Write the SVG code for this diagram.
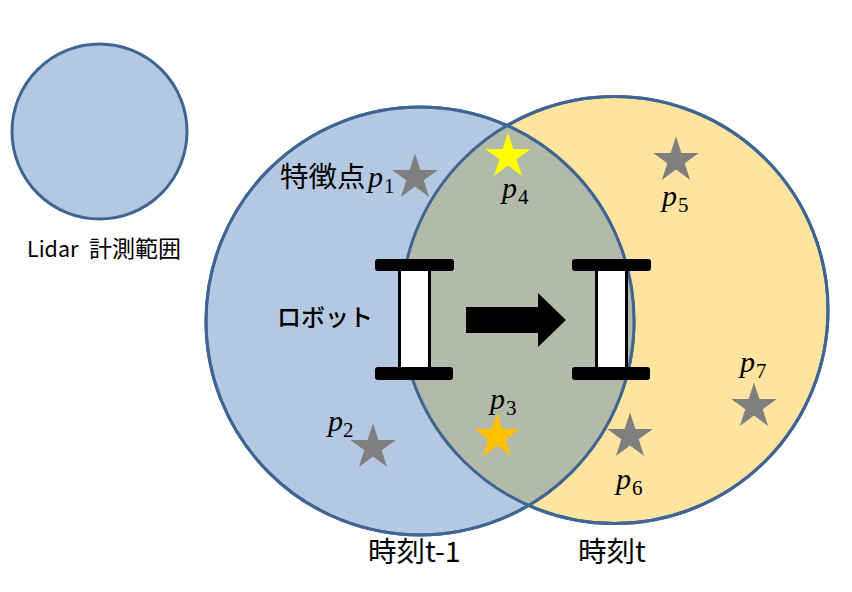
<svg xmlns="http://www.w3.org/2000/svg" xmlns:xlink="http://www.w3.org/1999/xlink" width="852" height="592" viewBox="0 0 852 592">
<style>
.c{stroke:#3f6692;stroke-width:3}
.b{fill:#b4c8e2}
.y{fill:#ffe4a0}
.t{font-family:"Noto Sans CJK JP","Liberation Sans",sans-serif;fill:#000}
.p{font-family:"Liberation Serif","DejaVu Serif",serif;font-style:italic;font-size:30px;fill:#000}
.s{font-family:"Liberation Serif","DejaVu Serif",serif;font-size:21px;fill:#000}
</style>
<defs>
<polygon id="star" points="0,-24 5.4,-7.4 22.8,-7.4 8.7,2.8 14.1,19.4 0,9.1 -14.1,19.4 -8.7,2.8 -22.8,-7.4 -5.4,-7.4"/>
<clipPath id="ov"><circle cx="420" cy="321" r="214"/></clipPath>
<g id="robot">
<rect x="24.5" y="6" width="30" height="104" fill="#fff" stroke="#000" stroke-width="3"/>
<rect x="0" y="0" width="79" height="12" rx="3" fill="#000"/>
<rect x="0" y="108" width="78" height="13" rx="3" fill="#000"/>
</g>
</defs>
<rect width="852" height="592" fill="#fff"/>
<g id="lidar-range"><circle class="c b" cx="99.5" cy="131.5" r="87.5"/><text class="t" x="27" y="257" font-size="21.5">Lidar</text><text class="t" x="89" y="257" font-size="23">計測範囲</text></g>
<g id="scan-t"><circle class="c y" cx="614.5" cy="310" r="213.5"/></g>
<g id="scan-t-1"><circle class="c b" cx="420" cy="321" r="214"/></g>
<g id="overlap">
<circle cx="614.5" cy="310" r="213.5" fill="#b3baa9" clip-path="url(#ov)"/>
<circle cx="614.5" cy="310" r="213.5" fill="none" class="c"/>
<circle cx="420" cy="321" r="214" fill="none" class="c"/>
</g>
<g id="robot-1"><use xlink:href="#robot" href="#robot" x="375" y="259"/></g>
<g id="robot-2"><use xlink:href="#robot" href="#robot" x="572" y="259"/></g>
<g id="connectors"><polygon points="466,307 538,307 538,293 566,320 538,347 538,333 466,333" fill="#000"/></g>
<g id="p1"><use href="#star" x="415" y="177.500" fill="#7f7f7f"/><text class="p" x="368" y="187">p</text><text class="s" x="384" y="193">1</text></g>
<g id="p2"><use href="#star" x="373" y="447.500" fill="#7f7f7f"/><text class="p" x="328" y="431">p</text><text class="s" x="343" y="437">2</text></g>
<g id="p3"><use href="#star" x="497" y="436.500" fill="#ffc000"/><text class="p" x="490" y="409">p</text><text class="s" x="506" y="415">3</text></g>
<g id="p4"><use href="#star" x="508" y="156.500" fill="#ffff00"/><text class="p" x="502" y="198">p</text><text class="s" x="518" y="204">4</text></g>
<g id="p5"><use href="#star" x="676" y="160.500" fill="#7f7f7f"/><text class="p" x="662" y="206">p</text><text class="s" x="678" y="212">5</text></g>
<g id="p6"><use href="#star" x="630" y="436.500" fill="#7f7f7f"/><text class="p" x="616" y="489">p</text><text class="s" x="632" y="495">6</text></g>
<g id="p7"><use href="#star" x="754" y="406.500" fill="#7f7f7f"/><text class="p" x="740" y="372">p</text><text class="s" x="756" y="378">7</text></g>
<g id="labels">
<text class="t" x="280" y="187" font-size="28.5">特徴点</text>
<text class="t" x="277" y="326" font-size="24" font-weight="500">ロボット</text>
<text class="t" x="368" y="562" font-size="28.500">時刻t-1</text>
<text class="t" x="578" y="562" font-size="28.500">時刻t</text>
</g>
</svg>
